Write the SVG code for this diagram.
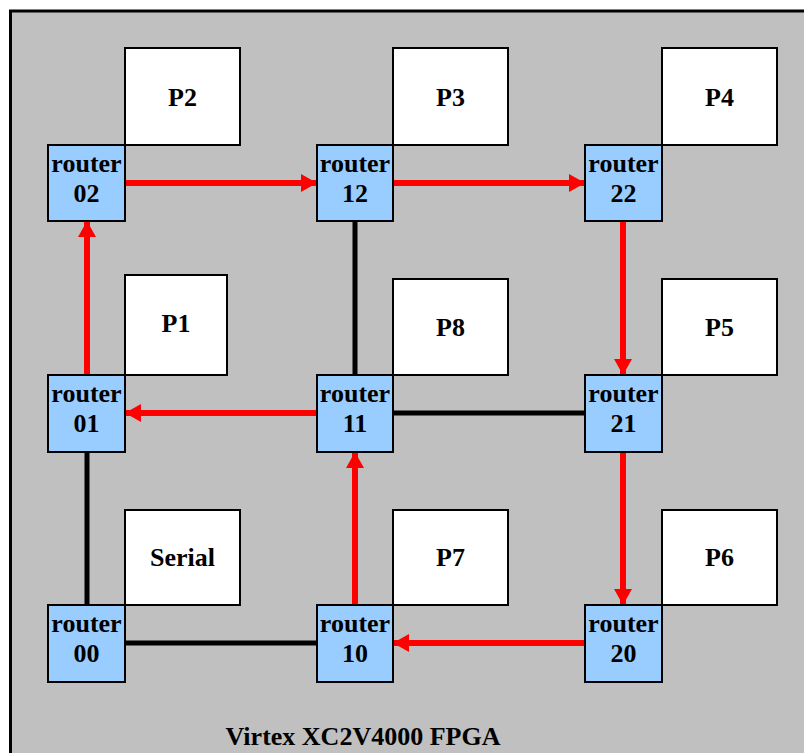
<svg xmlns="http://www.w3.org/2000/svg" width="804" height="753" viewBox="0 0 804 753">
<defs>
<style>
text{font-family:"Liberation Serif","Times New Roman",serif;font-weight:bold;font-size:26px;fill:#000;text-anchor:middle}
.router{fill:#99ccff;stroke:#000;stroke-width:2}
.pe{fill:#fff;stroke:#000;stroke-width:2}
.red{stroke:#ff0000;stroke-width:6;fill:none;marker-end:url(#ah)}
.blk{stroke:#000;stroke-width:5;fill:none;stroke-linecap:round}
</style>
<marker id="ah" markerUnits="userSpaceOnUse" markerWidth="16" markerHeight="18" refX="16" refY="9" orient="auto">
<path d="M0,0 L16,9 L0,18 Z" fill="#ff0000"/>
</marker>
</defs>
<rect x="0" y="0" width="804" height="753" fill="#fff"/>
<rect x="10.5" y="11" width="900" height="900" fill="#c0c0c0" stroke="#000" stroke-width="3"/>
<g id="connectors">
<line class="red" x1="125" y1="183" x2="317" y2="183"/>
<line class="red" x1="393" y1="183" x2="585" y2="183"/>
<line class="red" x1="87" y1="375" x2="87" y2="221"/>
<line class="red" x1="317" y1="413" x2="125" y2="413"/>
<line class="red" x1="623" y1="221" x2="623" y2="375"/>
<line class="red" x1="623" y1="452" x2="623" y2="605"/>
<line class="red" x1="585" y1="643" x2="393" y2="643"/>
<line class="red" x1="355" y1="605" x2="355" y2="452"/>
<line class="blk" x1="355" y1="221" x2="355" y2="375"/>
<line class="blk" x1="393" y1="413" x2="585" y2="413"/>
<line class="blk" x1="87" y1="452" x2="87" y2="605"/>
<line class="blk" x1="125" y1="643" x2="317" y2="643"/>
</g>
<g id="P2"><rect class="pe" x="125" y="48" width="115" height="97"/><text x="182.5" y="106">P2</text></g>
<g id="P3"><rect class="pe" x="393" y="48" width="115" height="97"/><text x="450.5" y="106">P3</text></g>
<g id="P4"><rect class="pe" x="662" y="48" width="115" height="97"/><text x="719.5" y="106">P4</text></g>
<g id="P1"><rect class="pe" x="125" y="275" width="102" height="100"/><text x="176" y="332">P1</text></g>
<g id="P8"><rect class="pe" x="393" y="279" width="115" height="96"/><text x="450.5" y="336">P8</text></g>
<g id="P5"><rect class="pe" x="662" y="279" width="115" height="96"/><text x="719.5" y="336">P5</text></g>
<g id="Serial"><rect class="pe" x="125" y="510" width="115" height="95"/><text x="182.5" y="566">Serial</text></g>
<g id="P7"><rect class="pe" x="393" y="510" width="115" height="95"/><text x="450.5" y="566">P7</text></g>
<g id="P6"><rect class="pe" x="662" y="510" width="115" height="95"/><text x="719.5" y="566">P6</text></g>
<g id="router02"><rect class="router" x="48" y="145" width="77" height="76"/><text x="86.5" y="172">router</text><text x="86.5" y="202">02</text></g>
<g id="router12"><rect class="router" x="317" y="145" width="76" height="76"/><text x="355" y="172">router</text><text x="355" y="202">12</text></g>
<g id="router22"><rect class="router" x="585" y="145" width="77" height="76"/><text x="623.5" y="172">router</text><text x="623.5" y="202">22</text></g>
<g id="router01"><rect class="router" x="48" y="375" width="77" height="77"/><text x="86.5" y="402">router</text><text x="86.5" y="432">01</text></g>
<g id="router11"><rect class="router" x="317" y="375" width="76" height="77"/><text x="355" y="402">router</text><text x="355" y="432">11</text></g>
<g id="router21"><rect class="router" x="585" y="375" width="77" height="77"/><text x="623.5" y="402">router</text><text x="623.5" y="432">21</text></g>
<g id="router00"><rect class="router" x="48" y="605" width="77" height="77"/><text x="86.5" y="632">router</text><text x="86.5" y="662">00</text></g>
<g id="router10"><rect class="router" x="317" y="605" width="76" height="77"/><text x="355" y="632">router</text><text x="355" y="662">10</text></g>
<g id="router20"><rect class="router" x="585" y="605" width="77" height="77"/><text x="623.5" y="632">router</text><text x="623.5" y="662">20</text></g>
<text x="363" y="745">Virtex XC2V4000 FPGA</text>
</svg>
